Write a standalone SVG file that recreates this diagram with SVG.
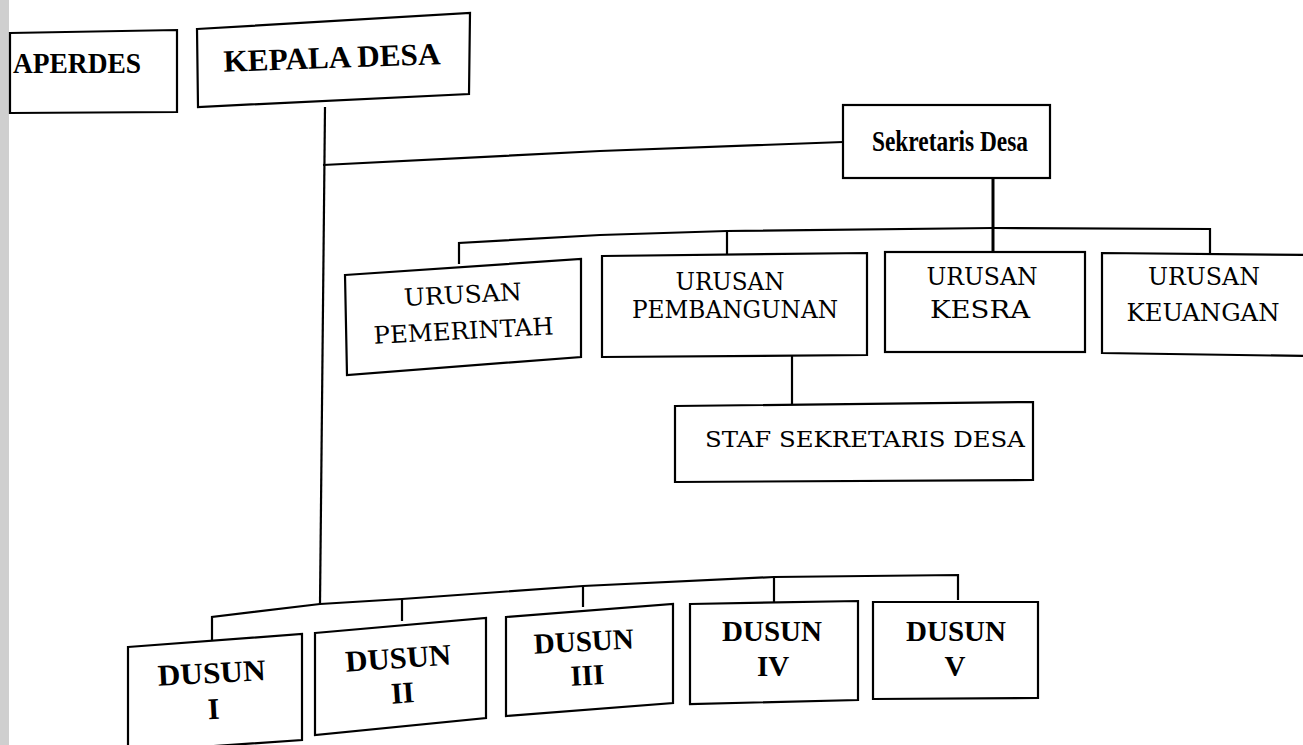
<svg xmlns="http://www.w3.org/2000/svg" width="1303" height="745" viewBox="0 0 1303 745">
<style>
.box{fill:#fff;stroke:#000;stroke-width:2.2;stroke-linejoin:miter}
.ln{fill:none;stroke:#000;stroke-width:2.2;stroke-linejoin:miter}
.bold{font-family:"Liberation Serif","Times New Roman",serif;font-weight:bold;fill:#000;text-anchor:middle}
.reg{font-family:"DejaVu Serif","Liberation Serif",serif;font-weight:normal;fill:#000;text-anchor:middle}
</style>
<rect x="0" y="0" width="1303" height="745" fill="#fff"/>
<rect x="0" y="0" width="9" height="745" fill="#cfcfcf"/>
<g id="connectors">
<path class="ln" d="M325,107 L320,604"/>
<path class="ln" d="M323,165 L600,151 L843,142"/>
<path class="ln" d="M993,178 L993,252" style="stroke-width:3"/>
<path class="ln" d="M459,264 L459,243 L600,235 L727,231 L993,228 L1210,229 L1210,253"/>
<path class="ln" d="M727,231 L727,255"/>
<path class="ln" d="M792,355 L792,404"/>
<path class="ln" d="M212,641 L212,617 L320,604 L402,599 L583,586 L774,577 L958,575 L958,600"/>
<path class="ln" d="M402,599 L402,621"/>
<path class="ln" d="M583,586 L583,607"/>
<path class="ln" d="M774,577 L774,602"/>
</g>
<g id="baperdes">
<polygon class="box" points="10,33 177,30 177,112 10,113"/>
<text class="bold" x="77" y="73" font-size="30" textLength="128" lengthAdjust="spacingAndGlyphs">APERDES</text>
</g>
<g id="kepala-desa">
<polygon class="box" points="197,29 470,13 469,94 198,107"/>
<text class="bold" x="332" y="68" font-size="31" textLength="217" lengthAdjust="spacingAndGlyphs" transform="rotate(-2 332 60)">KEPALA DESA</text>
</g>
<g id="sekretaris-desa">
<rect class="box" x="843" y="105" width="207" height="73"/>
<text class="bold" x="950" y="151" font-size="29" textLength="156" lengthAdjust="spacingAndGlyphs">Sekretaris Desa</text>
</g>
<g id="urusan-pemerintah">
<polygon class="box" points="345,275 581,259 581,357 347,375"/>
<g transform="rotate(-3 464 320)">
<text class="reg" x="464" y="303" font-size="24" textLength="118" lengthAdjust="spacingAndGlyphs">URUSAN</text>
<text class="reg" x="463" y="339" font-size="24" textLength="180" lengthAdjust="spacingAndGlyphs">PEMERINTAH</text>
</g>
</g>
<g id="urusan-pembangunan">
<polygon class="box" points="602,256 867,253 867,355 602,357"/>
<text class="reg" x="730" y="290" font-size="24" textLength="109" lengthAdjust="spacingAndGlyphs">URUSAN</text>
<text class="reg" x="735" y="318" font-size="24" textLength="206" lengthAdjust="spacingAndGlyphs">PEMBANGUNAN</text>
</g>
<g id="urusan-kesra">
<rect class="box" x="885" y="252" width="200" height="100"/>
<text class="reg" x="982" y="285" font-size="24" textLength="111" lengthAdjust="spacingAndGlyphs">URUSAN</text>
<text class="reg" x="980" y="318" font-size="24" textLength="100" lengthAdjust="spacingAndGlyphs">KESRA</text>
</g>
<g id="urusan-keuangan">
<polygon class="box" points="1102,253 1306,255 1306,356 1102,353"/>
<text class="reg" x="1204" y="285" font-size="24" textLength="112" lengthAdjust="spacingAndGlyphs">URUSAN</text>
<text class="reg" x="1203" y="321" font-size="24" textLength="153" lengthAdjust="spacingAndGlyphs">KEUANGAN</text>
</g>
<g id="staf-sekretaris-desa">
<polygon class="box" points="675,406 1033,402 1033,480 675,482"/>
<text class="reg" x="865" y="447" font-size="23" textLength="320" lengthAdjust="spacingAndGlyphs">STAF SEKRETARIS DESA</text>
</g>
<g id="dusun-1">
<polygon class="box" points="128,647 302,634 302,740 128,752"/>
<g transform="rotate(-3 212 700)">
<text class="bold" x="213" y="683" font-size="30" textLength="108" lengthAdjust="spacingAndGlyphs">DUSUN</text>
<text class="bold" x="213" y="719" font-size="30">I</text>
</g>
</g>
<g id="dusun-2">
<polygon class="box" points="315,633 486,618 486,718 315,735"/>
<g transform="rotate(-4 400 684)">
<text class="bold" x="400" y="668" font-size="30" textLength="106" lengthAdjust="spacingAndGlyphs">DUSUN</text>
<text class="bold" x="402" y="703" font-size="30">II</text>
</g>
</g>
<g id="dusun-3">
<polygon class="box" points="506,617 673,604 673,703 506,716"/>
<g transform="rotate(-3 585 666)">
<text class="bold" x="585" y="651" font-size="29" textLength="100" lengthAdjust="spacingAndGlyphs">DUSUN</text>
<text class="bold" x="587" y="685" font-size="29">III</text>
</g>
</g>
<g id="dusun-4">
<polygon class="box" points="690,604 858,601 858,700 690,704"/>
<text class="bold" x="772" y="641" font-size="29" textLength="100" lengthAdjust="spacingAndGlyphs">DUSUN</text>
<text class="bold" x="773" y="676" font-size="29">IV</text>
</g>
<g id="dusun-5">
<polygon class="box" points="873,602 1038,602 1038,698 873,699"/>
<text class="bold" x="956" y="641" font-size="29" textLength="100" lengthAdjust="spacingAndGlyphs">DUSUN</text>
<text class="bold" x="955" y="676" font-size="29">V</text>
</g>
</svg>
